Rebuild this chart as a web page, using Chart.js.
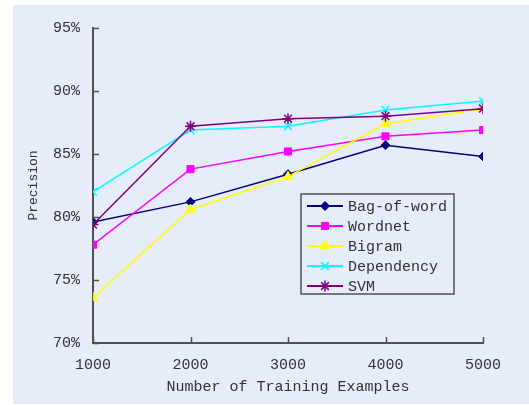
<!DOCTYPE html>
<html>
<head>
<meta charset="utf-8">
<script src="https://cdn.jsdelivr.net/npm/chart.js@4/dist/chart.umd.min.js"></script>
<style>
  html, body { margin: 0; padding: 0; background: #ffffff; }
  canvas { display: block; }
</style>
</head>
<body>
<canvas id="chart" width="529" height="405"></canvas>
<script>
// training set sizes
const examples = [1000, 2000, 3000, 4000, 5000];

// precision (%)
const bagOfWord = [79.6, 81.2, 83.4, 85.7, 84.8];
const wordnet = [77.8, 83.8, 85.2, 86.4, 86.9];
const bigram = [73.6, 80.6, 83.2, 87.4, 88.6];
const dependency = [82.0, 86.9, 87.2, 88.5, 89.2];
const svm = [79.4, 87.2, 87.8, 88.0, 88.6];

const yTicks = [70, 75, 80, 85, 90, 95];

const seriesNames = ["Bag-of-word", "Wordnet", "Bigram", "Dependency", "SVM"];
const seriesValues = [bagOfWord, wordnet, bigram, dependency, svm];
const seriesColors = ["#000080", "#ff00ff", "#ffff00", "#00ffff", "#800080"];
const seriesMarkers = ["rectRot", "rect", "triangle", "crossRot", "star"];
const markerSizes = [4.5, 5, 5.5, 5.5, 5.5];

const axisColor = "#505050";
const textColor = "#333333";
const monoFont = "'Liberation Mono', 'DejaVu Sans Mono', monospace";

const datasets = seriesNames.map((name, i) => ({
  label: name,
  data: examples.map((x, j) => ({ x: x, y: seriesValues[i][j] })),
  borderColor: seriesColors[i],
  backgroundColor: seriesColors[i],
  borderWidth: 1.5,
  pointStyle: seriesMarkers[i],
  pointRadius: markerSizes[i],
  pointBorderWidth: i >= 3 ? 1.5 : 1,
  pointBorderColor: seriesColors[i],
  pointBackgroundColor: seriesColors[i],
  order: seriesNames.length - i,
  tension: 0
}));

// light blue panel behind the whole figure
const panelBg = {
  id: "panelBg",
  beforeDraw(chart) {
    const ctx = chart.ctx;
    ctx.save();
    ctx.fillStyle = "#e6ecfa";
    ctx.fillRect(13, 5, 516, 399);
    ctx.restore();
  }
};

// short tick marks pointing into the plot
const innerTicks = {
  id: "innerTicks",
  afterDraw(chart) {
    const ctx = chart.ctx;
    const xs = chart.scales.x, ys = chart.scales.y;
    const area = chart.chartArea;
    ctx.save();
    ctx.strokeStyle = axisColor;
    ctx.lineWidth = 1.5;
    ctx.beginPath();
    yTicks.forEach(v => {
      const y = Math.round(ys.getPixelForValue(v)) + 0.5;
      ctx.moveTo(area.left, y);
      ctx.lineTo(area.left + 6, y);
    });
    examples.forEach(v => {
      const x = Math.round(xs.getPixelForValue(v)) + 0.5;
      ctx.moveTo(x, area.bottom);
      ctx.lineTo(x, area.bottom - 6);
    });
    ctx.stroke();
    ctx.restore();
  }
};

// boxed legend inside the plot, like the original
const boxLegend = {
  id: "boxLegend",
  afterDraw(chart) {
    const ctx = chart.ctx;
    const x0 = 301, y0 = 194, w = 153, h = 100;
    ctx.save();
    ctx.strokeStyle = axisColor;
    ctx.lineWidth = 1.5;
    ctx.strokeRect(x0, y0, w, h);
    ctx.font = "15px " + monoFont;
    ctx.textBaseline = "middle";
    ctx.textAlign = "left";
    seriesNames.forEach((name, i) => {
      const y = y0 + 12 + i * 20;
      ctx.strokeStyle = seriesColors[i];
      ctx.lineWidth = 2;
      ctx.beginPath();
      ctx.moveTo(307, y);
      ctx.lineTo(343, y);
      ctx.stroke();
      ctx.fillStyle = seriesColors[i];
      ctx.lineWidth = i >= 3 ? 1.5 : 1;
      Chart.helpers.drawPoint(ctx, {
        pointStyle: seriesMarkers[i],
        radius: markerSizes[i],
        rotation: 0,
        borderWidth: 1
      }, 325, y);
      ctx.fillStyle = textColor;
      ctx.fillText(name, 348, y + 1);
    });
    ctx.restore();
  }
};

new Chart(document.getElementById("chart"), {
  type: "line",
  data: { datasets: datasets },
  plugins: [panelBg, innerTicks, boxLegend],
  options: {
    responsive: false,
    animation: false,
    layout: { padding: { top: 28, right: 46, left: 0, bottom: 0 } },
    plugins: {
      legend: { display: false },
      tooltip: { enabled: false }
    },
    scales: {
      x: {
        type: "linear",
        min: 1000,
        max: 5000,
        afterBuildTicks(scale) {
          scale.ticks = examples.map(v => ({ value: v }));
        },
        afterFit(scale) { scale.height = 62; },
        border: { color: axisColor, width: 2 },
        grid: { display: false, drawTicks: false },
        ticks: {
          padding: 13,
          color: textColor,
          font: { family: monoFont, size: 15 },
          maxRotation: 0,
          callback: v => String(v)
        },
        title: {
          display: true,
          text: "Number of Training Examples",
          color: textColor,
          font: { family: monoFont, size: 15 },
          padding: { top: 0, bottom: 9 }
        }
      },
      y: {
        min: 70,
        max: 95,
        afterBuildTicks(scale) {
          scale.ticks = yTicks.map(v => ({ value: v }));
        },
        afterFit(scale) { scale.width = 93; },
        border: { color: axisColor, width: 2 },
        grid: { display: false, drawTicks: false },
        ticks: {
          padding: 13,
          color: textColor,
          font: { family: monoFont, size: 15 },
          callback: v => v + "%"
        },
        title: {
          display: true,
          text: "Precision",
          color: textColor,
          font: { family: monoFont, size: 13 },
          padding: { top: 26, bottom: 0 }
        }
      }
    }
  }
});
</script>
</body>
</html>
